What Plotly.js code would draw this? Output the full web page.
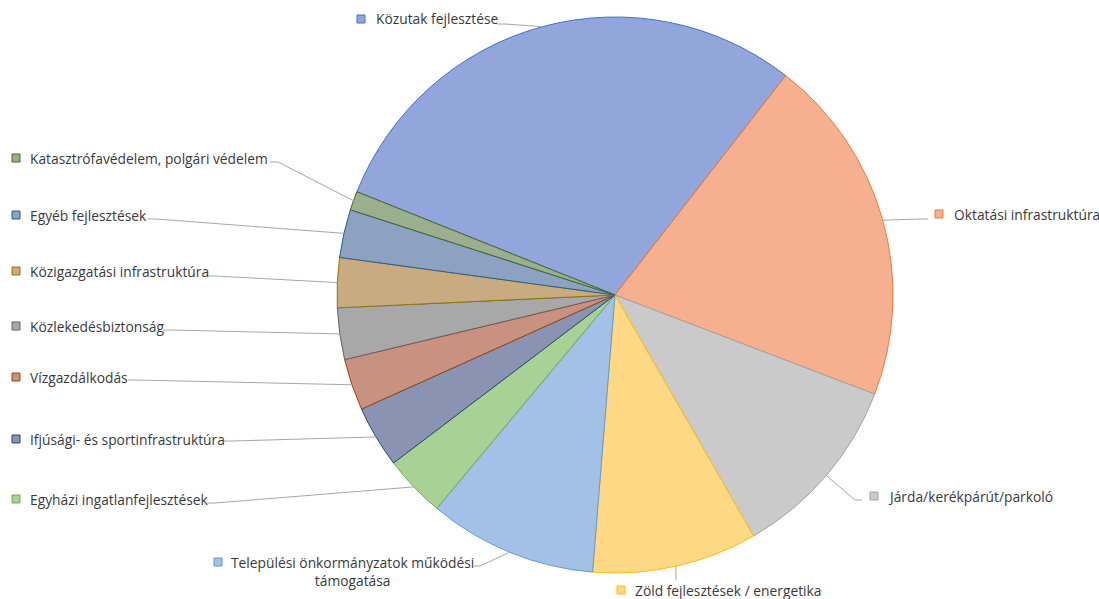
<!DOCTYPE html>
<html>
<head>
<meta charset="utf-8">
<script src="https://cdn.plot.ly/plotly-3.0.1.min.js"></script>
<style>html,body{margin:0;padding:0;background:#fff;}#chart{width:1099px;height:599px;}</style>
</head>
<body>
<div id="chart"></div>
<script>
// ---- data ----
const categories = [
  "Közutak fejlesztése",
  "Oktatási infrastruktúra",
  "Járda/kerékpárút/parkoló",
  "Zöld fejlesztések / energetika",
  "Települési önkormányzatok működési<br>támogatása",
  "Egyházi ingatlanfejlesztések",
  "Ifjúsági- és sportinfrastruktúra",
  "Vízgazdálkodás",
  "Közlekedésbiztonság",
  "Közigazgatási infrastruktúra",
  "Egyéb fejlesztések",
  "Katasztrófavédelem, polgári védelem"
];
const values = [29.5, 20.3, 10.9, 9.6, 9.8, 3.6, 3.6, 3.0, 3.0, 2.9, 2.8, 1.1];

// ---- styles ----
const fillColors = ["#93A6DB","#F6AF8F","#CACACA","#FFD886","#A3C1E7","#A8D295","#8A94B2","#C99280","#A8A8A8","#C9AB82","#8CA2C0","#9BAF8F"];
const lineColors = ["#4472C4","#ED7D31","#A5A5A5","#FFC000","#5B9BD5","#70AD47","#264478","#9E480E","#636363","#997300","#255E91","#43682B"];

// label layout (pixels): [textX, textY(center), anchor, lineStartX, lineStartY, elbowX]
const labelLayout = [
  [374, 19, "left", 497, 24, 505],
  [952, 214, "left", 928, 219, 920],
  [886, 496, "left", 862, 500, 855],
  [633, 590, "left", 676, 580, 676],
  [352, 571, "center", 474, 566, 480],
  [28, 499, "left", 207, 503, 215],
  [28, 439, "left", 224, 441, 232],
  [28, 377, "left", 128, 380, 136],
  [28, 326, "left", 163, 330, 171],
  [28, 271, "left", 207, 276, 215],
  [28, 215, "left", 148, 219, 156],
  [28, 158, "left", 270, 162, 278]
];
const squareX = [357, 935, 870, 617, 214, 12, 12, 12, 12, 12, 12, 12];
const squareY = [19, 214, 496, 590, 562, 499, 439, 377, 326, 271, 215, 158];

const W = 1099, H = 599;
const cx = 615, cy = 295, R = 278;
const rotation = 291.8;

const px = x => x / W;
const py = y => 1 - y / H;

// compute slice mid angles from data
const total = values.reduce((a, b) => a + b, 0);
let acc = 0;
const midAngles = values.map(v => {
  const a = rotation + (acc + v / 2) / total * 360;
  acc += v;
  return a * Math.PI / 180;
});

const shapes = [];
const annotations = [];
categories.forEach((c, i) => {
  const L = labelLayout[i];
  const ex = cx + R * Math.sin(midAngles[i]);
  const ey = cy - R * Math.cos(midAngles[i]);
  shapes.push({
    type: "path", xref: "paper", yref: "paper",
    path: `M ${px(L[3])} ${py(L[4])} L ${px(L[5])} ${py(L[4])} L ${px(ex)} ${py(ey)}`,
    line: {color: "#A6A6A6", width: 1}
  });
  shapes.push({
    type: "rect", xref: "paper", yref: "paper",
    x0: px(squareX[i]), x1: px(squareX[i] + 8),
    y0: py(squareY[i] - 4), y1: py(squareY[i] + 4),
    fillcolor: fillColors[i], line: {color: lineColors[i], width: 1}
  });
  annotations.push({
    xref: "paper", yref: "paper",
    x: px(L[0]), y: py(L[1]),
    xanchor: L[2], yanchor: "middle",
    align: "center",
    text: c, showarrow: false,
    font: {family: "Open Sans, Noto Sans, sans-serif", size: 13.8, color: "#3A3A3A"}
  });
});

const trace = {
  type: "pie",
  labels: categories,
  values: values,
  sort: false,
  direction: "clockwise",
  rotation: rotation,
  textinfo: "none",
  hoverinfo: "label+percent",
  marker: {colors: fillColors, line: {color: lineColors, width: 1}},
  domain: {x: [px(cx - R), px(cx + R)], y: [py(cy + R), py(cy - R)]},
  showlegend: false
};

Plotly.newPlot("chart", [trace], {
  width: W, height: H,
  margin: {l: 0, r: 0, t: 0, b: 0},
  paper_bgcolor: "#fff",
  showlegend: false,
  shapes: shapes,
  annotations: annotations
}, {displayModeBar: false, staticPlot: true});
</script>
</body>
</html>
